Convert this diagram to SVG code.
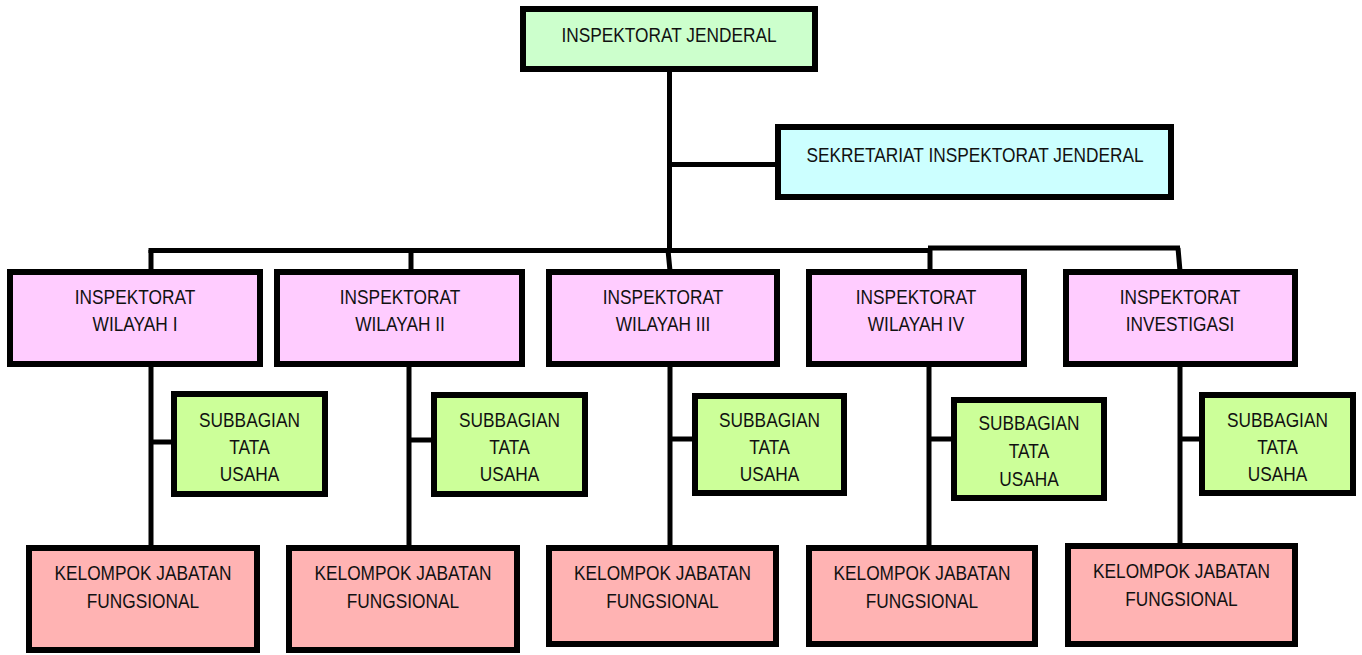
<svg xmlns="http://www.w3.org/2000/svg" width="1362" height="655" viewBox="0 0 1362 655">
<style>
.box{stroke:#000;stroke-width:6}
.ij{fill:#CCFFCC}
.sk{fill:#CCFFFF}
.iw{fill:#FFCCFF}
.sb{fill:#CCFF99}
.kj{fill:#FFB3B3}
.con{fill:none;stroke:#000;stroke-width:5}
text{font-family:"Liberation Sans",Arial,sans-serif;font-size:20px;fill:#111;text-anchor:middle}
</style>
<rect width="1362" height="655" fill="#fff"/>
<g id="connectors">
<path class="con" d="M669.5 72V250M669 164.5H776"/>
<path class="con" d="M148.5 250.5H931M928 248H1180"/>
<path class="con" d="M151 250V270M411 250V271M668 250L670 271M930 248V271M1178 248L1180 271"/>
<path class="con" d="M151 366V546M409 366V546M670 366V546M929 366V546M1180 366V550"/>
<path class="con" d="M151 442H172M409 440H432M670 439H693M929 439H952M1180 439H1200"/>
</g>
<g id="inspektorat-jenderal"><rect class="box ij" x="523" y="9" width="292" height="60"/><text transform="translate(669,42) scale(0.865,1)">INSPEKTORAT JENDERAL</text></g>
<g id="sekretariat"><rect class="box sk" x="778" y="127" width="393" height="70"/><text transform="translate(975,162) scale(0.865,1)">SEKRETARIAT INSPEKTORAT JENDERAL</text></g>
<g id="wilayah-1"><rect class="box iw" x="10" y="272" width="250" height="92"/><text transform="translate(135,304) scale(0.865,1)">INSPEKTORAT</text><text transform="translate(135,331) scale(0.865,1)">WILAYAH I</text></g>
<g id="wilayah-2"><rect class="box iw" x="277" y="272" width="245" height="92"/><text transform="translate(400,304) scale(0.865,1)">INSPEKTORAT</text><text transform="translate(400,331) scale(0.865,1)">WILAYAH II</text></g>
<g id="wilayah-3"><rect class="box iw" x="549" y="272" width="228" height="92"/><text transform="translate(663,304) scale(0.865,1)">INSPEKTORAT</text><text transform="translate(663,331) scale(0.865,1)">WILAYAH III</text></g>
<g id="wilayah-4"><rect class="box iw" x="809" y="272" width="215" height="92"/><text transform="translate(916,304) scale(0.865,1)">INSPEKTORAT</text><text transform="translate(916,331) scale(0.865,1)">WILAYAH IV</text></g>
<g id="investigasi"><rect class="box iw" x="1066" y="272" width="229" height="92"/><text transform="translate(1180,304) scale(0.865,1)">INSPEKTORAT</text><text transform="translate(1180,331) scale(0.865,1)">INVESTIGASI</text></g>
<g id="subbagian-1"><rect class="box sb" x="174" y="394" width="151" height="100"/><text transform="translate(249.5,427) scale(0.865,1)">SUBBAGIAN</text><text transform="translate(249.5,454) scale(0.865,1)">TATA</text><text transform="translate(249.5,481) scale(0.865,1)">USAHA</text></g>
<g id="subbagian-2"><rect class="box sb" x="434" y="395" width="151" height="99"/><text transform="translate(509.5,427) scale(0.865,1)">SUBBAGIAN</text><text transform="translate(509.5,454) scale(0.865,1)">TATA</text><text transform="translate(509.5,481) scale(0.865,1)">USAHA</text></g>
<g id="subbagian-3"><rect class="box sb" x="695" y="396" width="149" height="97"/><text transform="translate(769.5,427) scale(0.865,1)">SUBBAGIAN</text><text transform="translate(769.5,454) scale(0.865,1)">TATA</text><text transform="translate(769.5,481) scale(0.865,1)">USAHA</text></g>
<g id="subbagian-4"><rect class="box sb" x="954" y="400" width="150" height="98"/><text transform="translate(1029,430) scale(0.865,1)">SUBBAGIAN</text><text transform="translate(1029,458) scale(0.865,1)">TATA</text><text transform="translate(1029,486) scale(0.865,1)">USAHA</text></g>
<g id="subbagian-5"><rect class="box sb" x="1202" y="395" width="151" height="98"/><text transform="translate(1277.5,427) scale(0.865,1)">SUBBAGIAN</text><text transform="translate(1277.5,454) scale(0.865,1)">TATA</text><text transform="translate(1277.5,481) scale(0.865,1)">USAHA</text></g>
<g id="kelompok-1"><rect class="box kj" x="29" y="548" width="228" height="102"/><text transform="translate(143,580) scale(0.865,1)">KELOMPOK JABATAN</text><text transform="translate(143,608) scale(0.865,1)">FUNGSIONAL</text></g>
<g id="kelompok-2"><rect class="box kj" x="289" y="548" width="228" height="102"/><text transform="translate(403,580) scale(0.865,1)">KELOMPOK JABATAN</text><text transform="translate(403,608) scale(0.865,1)">FUNGSIONAL</text></g>
<g id="kelompok-3"><rect class="box kj" x="549" y="548" width="227" height="96"/><text transform="translate(662.5,580) scale(0.865,1)">KELOMPOK JABATAN</text><text transform="translate(662.5,608) scale(0.865,1)">FUNGSIONAL</text></g>
<g id="kelompok-4"><rect class="box kj" x="809" y="548" width="226" height="96"/><text transform="translate(922,580) scale(0.865,1)">KELOMPOK JABATAN</text><text transform="translate(922,608) scale(0.865,1)">FUNGSIONAL</text></g>
<g id="kelompok-5"><rect class="box kj" x="1068" y="546" width="227" height="98"/><text transform="translate(1181.5,578) scale(0.865,1)">KELOMPOK JABATAN</text><text transform="translate(1181.5,606) scale(0.865,1)">FUNGSIONAL</text></g>
</svg>
